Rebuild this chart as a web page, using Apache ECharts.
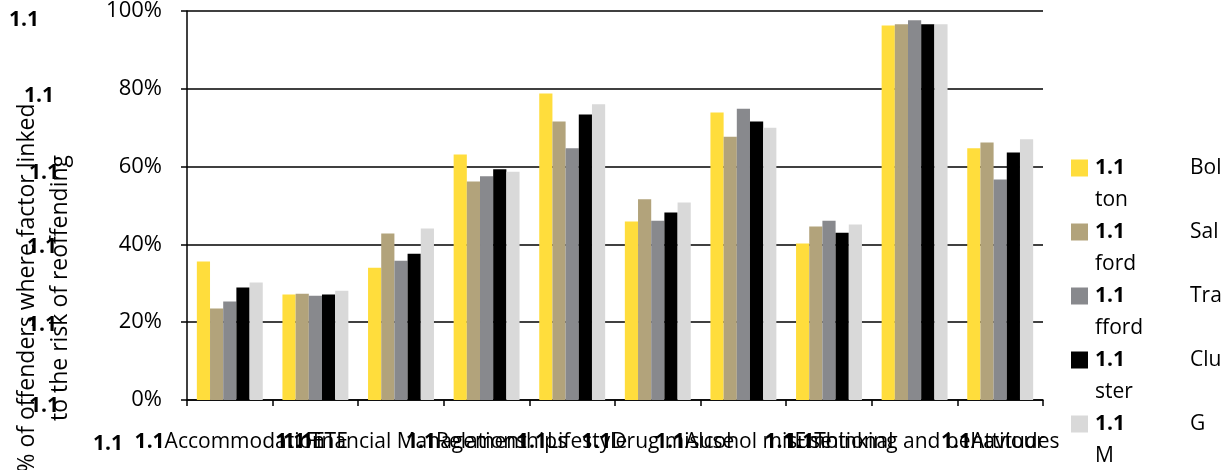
<!DOCTYPE html>
<html>
<head>
<meta charset="utf-8">
<script src="https://cdn.jsdelivr.net/npm/echarts@6/dist/echarts.min.js"></script>
<style>
  html, body { margin: 0; padding: 0; background: #fff; }
  #chart { width: 1231px; height: 470px; }
</style>
</head>
<body>
<div id="chart"></div>
<script>
// Risk factor areas assessed for offenders
const categories = [
  'Accommodation', 'ETE', 'Financial Management', 'Relationships', 'Lifestyle',
  'Drug misuse', 'Alcohol misuse', 'Emotional', 'Thinking and behaviour', 'Attitudes'
];

// Share of offenders (%) where each factor is linked to reoffending
const bolton   = [35.6, 27.1, 34.0, 63.1, 78.8, 45.9, 73.9, 40.2, 96.3, 64.7];
const salford  = [23.5, 27.3, 42.8, 56.2, 71.6, 51.6, 67.7, 44.6, 96.6, 66.2];
const trafford = [25.3, 26.8, 35.8, 57.5, 64.7, 46.1, 74.9, 46.1, 97.6, 56.7];
const cluster  = [28.9, 27.1, 37.6, 59.3, 73.4, 48.2, 71.6, 43.0, 96.6, 63.6];
const gm       = [30.2, 28.1, 44.1, 58.7, 76.0, 50.8, 70.0, 45.1, 96.6, 67.0];

// Legend names, split over two lines as they wrap in the key
const seriesNames = ['Bolton', 'Salford', 'Trafford', 'Cluster', 'GM'];
const legendHead  = ['Bol', 'Sal', 'Tra', 'Clu', 'G'];
const legendTail  = ['ton', 'ford', 'fford', 'ster', 'M'];
const seriesData  = [bolton, salford, trafford, cluster, gm];
const colors = ['#FFDD3C', '#B2A37B', '#88898D', '#000000', '#D9D9D9'];

const yTicks = [0, 20, 40, 60, 80, 100];
const sectionNumber = '1.1';

const FONT = '"Open Sans", "Liberation Sans", sans-serif';

const chart = echarts.init(document.getElementById('chart'), null, { renderer: 'canvas' });

// Key on the right: swatch, bold section number, name wrapped over two lines
const legendGraphics = [];
seriesNames.forEach((name, i) => {
  const cy = 168 + i * 64;
  legendGraphics.push({
    type: 'rect', left: 1071, top: cy - 8.5,
    shape: { width: 17, height: 17 },
    style: { fill: colors[i] }
  });
  legendGraphics.push({
    type: 'text', x: 1095, y: cy,
    style: { text: sectionNumber, fill: '#000', font: 'bold 21px ' + FONT, verticalAlign: 'middle' }
  });
  legendGraphics.push({
    type: 'text', x: 1190, y: cy,
    style: { text: legendHead[i], fill: '#000', font: '21px ' + FONT, verticalAlign: 'middle' }
  });
  legendGraphics.push({
    type: 'text', x: 1095, y: cy + 32,
    style: { text: legendTail[i], fill: '#000', font: '21px ' + FONT, verticalAlign: 'middle' }
  });
});

// Section numbers down the left edge
const leftNumbers = [
  { x: 9, y: 20 }, { x: 24, y: 96 }, { x: 29, y: 173 },
  { x: 27, y: 247 }, { x: 27, y: 325 }, { x: 29, y: 406 }, { x: 93, y: 444 }
].map(p => ({
  type: 'text', x: p.x, y: p.y, z: 10,
  style: { text: sectionNumber, fill: '#000', font: 'bold 21px ' + FONT, verticalAlign: 'middle' }
}));

const option = {
  backgroundColor: '#fff',
  animation: false,
  color: colors,
  grid: { left: 187, right: 188, top: 11, bottom: 70, containLabel: false },
  xAxis: {
    type: 'category',
    data: categories,
    axisLine: { lineStyle: { color: '#000', width: 1.5 } },
    axisTick: { show: true, length: 6, lineStyle: { color: '#000', width: 1.5 } },
    axisLabel: {
      interval: 0,
      margin: 32,
      hideOverlap: false,
      color: '#000',
      fontFamily: FONT,
      fontSize: 21,
      formatter: v => '{b|' + sectionNumber + '}{n|' + v + '}',
      rich: {
        b: { fontWeight: 'bold', fontSize: 21, fontFamily: FONT, color: '#000' },
        n: { fontSize: 21, fontFamily: FONT, color: '#000' }
      }
    }
  },
  yAxis: {
    type: 'value',
    min: yTicks[0],
    max: yTicks[yTicks.length - 1],
    interval: yTicks[1] - yTicks[0],
    axisLine: { show: true, lineStyle: { color: '#000', width: 1.5 } },
    axisTick: { show: true, inside: false, length: 6, lineStyle: { color: '#000', width: 1.5 } },
    axisLabel: {
      margin: 25, color: '#000', fontFamily: FONT, fontSize: 22,
      formatter: v => v + '%'
    },
    splitLine: { show: true, lineStyle: { color: '#000', width: 1.6 } }
  },
  series: seriesNames.map((name, i) => ({
    name: name,
    type: 'bar',
    data: seriesData[i],
    barGap: '0%',
    barCategoryGap: '23%',
    itemStyle: { color: colors[i] }
  })),
  graphic: [
    {
      type: 'text', x: 44, y: 288, rotation: Math.PI / 2,
      style: {
        text: '% of offenders where factor linked\nto the risk of reoffending',
        fill: '#000', font: '23px ' + FONT, align: 'center', verticalAlign: 'middle',
        lineHeight: 33
      }
    },
    ...leftNumbers,
    ...legendGraphics
  ]
};

chart.setOption(option);
</script>
</body>
</html>
